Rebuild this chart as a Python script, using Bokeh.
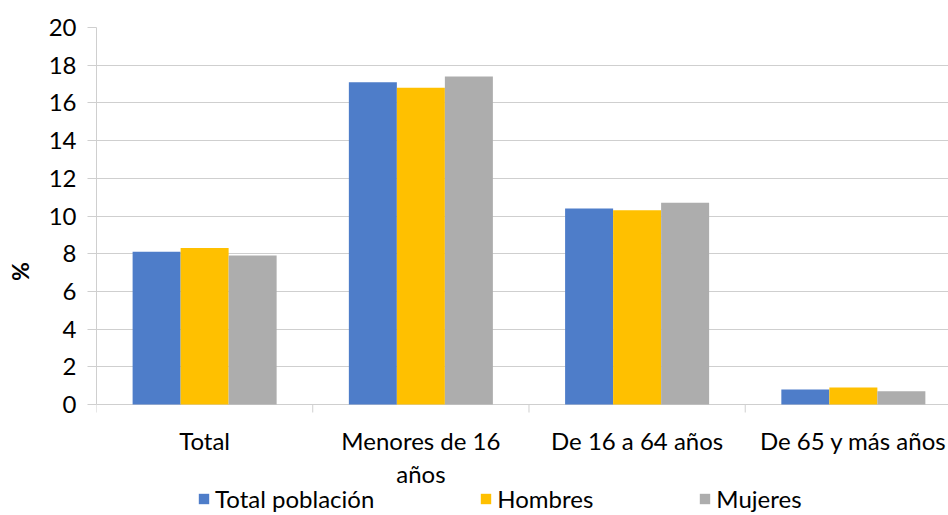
from bokeh.plotting import figure
from bokeh.models import Range1d, FixedTicker, Legend, LegendItem, ColumnDataSource
from bokeh.core.properties import value
from bokeh.embed import file_html
from bokeh.resources import INLINE

categories = ["Total", "Menores de 16\naños", "De 16 a 64 años", "De 65 y más años"]
series_names = ["Total población", "Hombres", "Mujeres"]
total_poblacion = [8.1, 17.1, 10.4, 0.8]
hombres = [8.3, 16.8, 10.3, 0.9]
mujeres = [7.9, 17.4, 10.7, 0.7]
y_ticks = [0, 2, 4, 6, 8, 10, 12, 14, 16, 18, 20]

colors = ["#4E7DC9", "#FFC000", "#ADADAD"]
FONT = "Lato"
GRID = "#CFCFCF"
FS = "24px"

centers = [i + 0.5 for i in range(len(categories))]
bounds = [i for i in range(len(categories) + 1)]
bar_w = 0.222

# frame covers the chart area plus the category labels and legend strip below it
PX_PER_UNIT = 377 / 20.0
Y_BOTTOM = -(488 - 377) / PX_PER_UNIT

p = figure(frame_width=852, frame_height=488, output_backend="svg", toolbar_location=None,
           x_range=Range1d(0, 3.94), y_range=Range1d(Y_BOTTOM, 20),
           x_axis_location=None,
           min_border_left=96, min_border_top=27, min_border_right=0, min_border_bottom=0)
p.outline_line_color = None
p.background_fill_color = "white"

items = []
for j, (name, vals) in enumerate(zip(series_names, [total_poblacion, hombres, mujeres])):
    xs = [c + (j - 1) * bar_w for c in centers]
    src = ColumnDataSource(dict(x=xs, top=vals))
    r = p.vbar(x="x", top="top", bottom=0, width=bar_w, source=src,
               fill_color=colors[j], line_color=None)
    items.append(LegendItem(label=name, renderers=[r]))

# category boundary ticks below the zero line
tick_len = 8 / PX_PER_UNIT
p.segment(x0=bounds, y0=[0] * len(bounds), x1=bounds, y1=[-tick_len] * len(bounds),
          line_color=GRID, line_width=1)

# category labels
p.text(x=centers, y=[0] * len(centers), text=categories, y_offset=21,
       text_align="center", text_baseline="top", text_line_height=1.15,
       text_font=value(FONT), text_font_size=FS, text_color="black")

# y axis
p.yaxis.ticker = FixedTicker(ticks=y_ticks)
p.yaxis.bounds = (0, 20)
p.ygrid.ticker = FixedTicker(ticks=y_ticks)
p.ygrid.grid_line_color = GRID
p.ygrid.grid_line_width = 1
p.xgrid.grid_line_color = None
p.yaxis.axis_line_color = GRID
p.yaxis.major_tick_line_color = GRID
p.yaxis.major_tick_out = 9
p.yaxis.major_tick_in = 0
p.yaxis.minor_tick_line_color = None
p.yaxis.major_label_text_font = FONT
p.yaxis.major_label_text_font_size = FS
p.yaxis.major_label_text_color = "black"
p.yaxis.major_label_standoff = 11
p.yaxis.axis_label = "%"
p.yaxis.axis_label_text_font = FONT
p.yaxis.axis_label_text_font_size = "23px"
p.yaxis.axis_label_text_font_style = "bold"
p.yaxis.axis_label_text_color = "black"
p.yaxis.axis_label_standoff = 12

legend = Legend(items=items, orientation="horizontal", location=(101, 2),
                spacing=105, glyph_width=13, glyph_height=13, label_standoff=5,
                label_text_font=FONT, label_text_font_size=FS, label_text_color="black",
                border_line_color=None, padding=0, margin=0, background_fill_alpha=0)
p.add_layout(legend, "center")

open("out.html", "w").write(file_html(p, INLINE))
